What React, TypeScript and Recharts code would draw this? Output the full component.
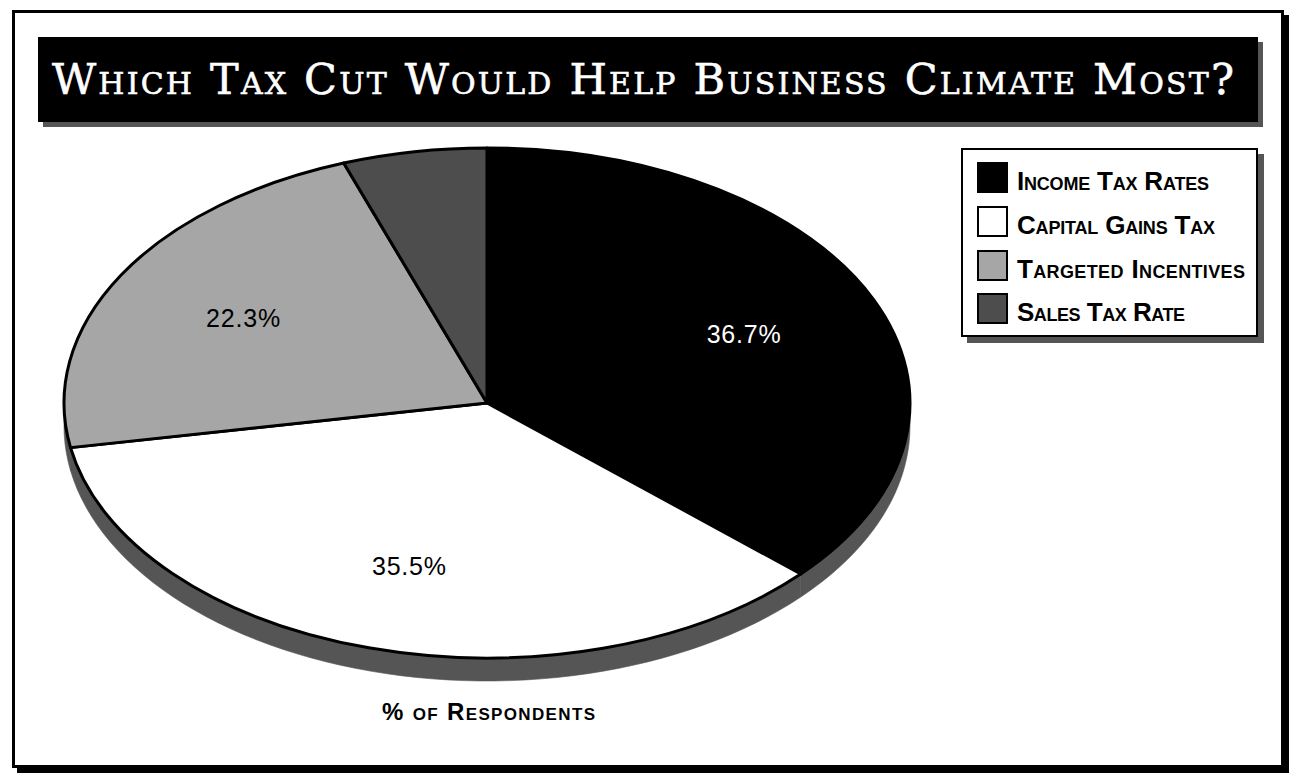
import React from 'react';
import { PieChart, Pie, Cell, Legend } from 'recharts';

const categories = ['Income Tax Rates', 'Capital Gains Tax', 'Targeted Incentives', 'Sales Tax Rate'];
const shares = [36.7, 35.5, 22.3, 5.5];
const colors = ['#000000', '#ffffff', '#a6a6a6', '#4d4d4d'];
const legendWidths = [192, 198, 228, 168];
const titleText = 'Which Tax Cut Would Help Business Climate Most?';
const axisTitle = '% of Respondents';

const data = categories.map((name, i) => ({ name, value: shares[i] }));

const CX = 487;
const CY = 403;
const RX = 423;
const RY = 255;
const DEPTH = 23;
const RAD = Math.PI / 180;

const pt = (cx: number, cy: number, a: number, rx: number, ry: number) => [
  cx + rx * Math.cos(a * RAD),
  cy - ry * Math.sin(a * RAD),
];

const TopSector = (props: any) => {
  const { cx, cy, outerRadius, startAngle, endAngle, fill } = props;
  const rx = outerRadius;
  const ry = (outerRadius * RY) / RX;
  const [x1, y1] = pt(cx, cy, startAngle, rx, ry);
  const [x2, y2] = pt(cx, cy, endAngle, rx, ry);
  const large = Math.abs(endAngle - startAngle) > 180 ? 1 : 0;
  const sweep = startAngle > endAngle ? 1 : 0;
  const d = `M${cx},${cy} L${x1},${y1} A${rx},${ry} 0 ${large} ${sweep} ${x2},${y2} Z`;
  return <path d={d} fill={fill} stroke="#000" strokeWidth={3} strokeLinejoin="round" />;
};

const SideSector = (props: any) => {
  const { cx, cy, outerRadius, startAngle, endAngle } = props;
  const rx = outerRadius;
  const ry = (outerRadius * RY) / RX;
  const lo = Math.max(Math.min(startAngle, endAngle), -180);
  const hi = Math.min(Math.max(startAngle, endAngle), 0);
  if (hi <= lo) return <g />;
  const n = 60;
  const top: string[] = [];
  const bot: string[] = [];
  for (let i = 0; i <= n; i++) {
    const a = lo + ((hi - lo) * i) / n;
    const [x, y] = pt(cx, cy, a, rx, ry);
    top.push(`${x},${y}`);
    bot.unshift(`${x},${y + DEPTH}`);
  }
  const d = `M${top.join(' L')} L${bot.join(' L')} Z`;
  return <path d={d} fill="#555555" stroke="#555555" strokeWidth={0.6} />;
};

const renderLabel = (p: any) => {
  if (p.value < 10) return null;
  const f = 0.665;
  const x = p.cx + f * RX * Math.cos(p.midAngle * RAD);
  const y = p.cy - f * RY * Math.sin(p.midAngle * RAD);
  const fill = p.index === 0 ? '#ffffff' : '#000000';
  return (
    <text
      x={x}
      y={y + 9}
      textAnchor="middle"
      fill={fill}
      style={{ fontFamily: 'Liberation Sans, Arial, sans-serif', fontSize: 25, letterSpacing: 0.8 }}
    >
      {`${p.value.toFixed(1)}%`}
    </text>
  );
};

const LegendContent = (props: any) => {
  const seen = new Set<string>();
  const items = (props.payload || [])
    .filter((e: any) => {
      if (seen.has(e.value)) return false;
      seen.add(e.value);
      return true;
    })
    .sort((a: any, b: any) => categories.indexOf(a.value) - categories.indexOf(b.value));
  const rowTops = [14, 58, 102, 145];
  return (
    <div
      style={{
        position: 'relative',
        width: 297,
        height: 189,
        boxSizing: 'border-box',
        border: '2px solid #000',
        background: '#fff',
        boxShadow: '6px 6px 0 #555',
      }}
    >
      <svg width={297} height={189} style={{ position: 'absolute', left: -2, top: -2, overflow: 'visible' }}>
        {items.map((e: any, i: number) => {
          const idx = categories.indexOf(e.value);
          const top = rowTops[i] ?? 14 + i * 44;
          return (
            <g key={e.value}>
              <rect
                x={17}
                y={top + 1}
                width={29}
                height={29}
                fill={colors[idx >= 0 ? idx : i]}
                stroke="#000"
                strokeWidth={2}
              />
              <text
                x={56}
                y={top + 28}
                textLength={legendWidths[idx >= 0 ? idx : i]}
                lengthAdjust="spacing"
                fill="#000"
                style={{
                  fontFamily: 'Liberation Sans, Arial, sans-serif',
                  fontWeight: 700,
                  fontSize: 26,
                  fontVariant: 'small-caps',
                }}
              >
                {e.value}
              </text>
            </g>
          );
        })}
      </svg>
    </div>
  );
};

export default function App() {
  const sideProps: any = { shape: SideSector, activeShape: SideSector, inactiveShape: SideSector };
  const topProps: any = { shape: TopSector, activeShape: TopSector, inactiveShape: TopSector };
  return (
    <div
      style={{
        position: 'absolute',
        left: 0,
        top: 0,
        width: 1293,
        height: 775,
        background: '#fff',
        overflow: 'hidden',
      }}
    >
      <div
        style={{
          position: 'absolute',
          left: 12,
          top: 10,
          width: 1272,
          height: 758,
          boxSizing: 'border-box',
          border: '3px solid #000',
          boxShadow: '5px 5px 0 #000',
          background: '#fff',
        }}
      />
      <div style={{ position: 'absolute', left: 0, top: 0 }}>
        <PieChart width={1293} height={775} margin={{ top: 0, right: 0, bottom: 0, left: 0 }}>
          <Pie
            data={data}
            dataKey="value"
            nameKey="name"
            cx={CX}
            cy={CY}
            outerRadius={RX}
            startAngle={90}
            endAngle={-270}
            isAnimationActive={false}
            legendType="none"
            stroke="none"
            {...sideProps}
          >
            {data.map((d) => (
              <Cell key={`side-${d.name}`} fill="#555555" />
            ))}
          </Pie>
          <Pie
            data={data}
            dataKey="value"
            nameKey="name"
            cx={CX}
            cy={CY}
            outerRadius={RX}
            startAngle={90}
            endAngle={-270}
            isAnimationActive={false}
            label={renderLabel}
            labelLine={false}
            stroke="#000"
            {...topProps}
          >
            {data.map((d, i) => (
              <Cell key={`top-${d.name}`} fill={colors[i]} />
            ))}
          </Pie>
          <Legend
            content={<LegendContent />}
            layout="vertical"
            verticalAlign="top"
            align="right"
            wrapperStyle={{ position: 'absolute', left: 961, top: 148, width: 297, height: 189 }}
          />
        </PieChart>
      </div>
      <div
        style={{
          position: 'absolute',
          left: 38,
          top: 37,
          width: 1220,
          height: 85,
          background: '#000',
          boxShadow: '5px 5px 0 #555',
        }}
      >
        <svg width={1220} height={85} style={{ position: 'absolute', left: 0, top: 0 }}>
          <text
            x={14}
            y={57}
            textLength={1182}
            lengthAdjust="spacing"
            fill="#fff"
            stroke="#fff"
            strokeWidth={0.6}
            style={{
              fontFamily: 'DejaVu Serif, serif',
              fontWeight: 400,
              fontSize: 43,
              fontVariant: 'small-caps',
            }}
          >
            {titleText}
          </text>
        </svg>
      </div>
      <svg width={1293} height={775} style={{ position: 'absolute', left: 0, top: 0, pointerEvents: 'none' }}>
        <text
          x={382}
          y={720}
          textLength={213}
          lengthAdjust="spacing"
          fill="#000"
          style={{
            fontFamily: 'Liberation Sans, Arial, sans-serif',
            fontWeight: 700,
            fontSize: 24,
            fontVariant: 'small-caps',
          }}
        >
          {axisTitle}
        </text>
      </svg>
    </div>
  );
}
